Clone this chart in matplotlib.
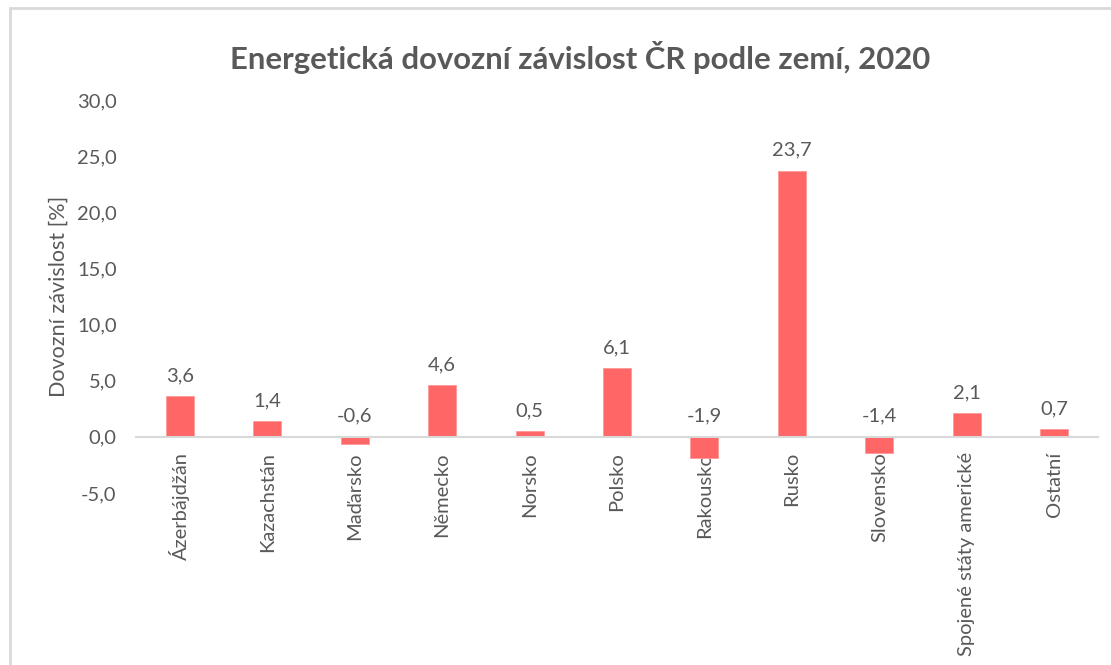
import matplotlib.pyplot as plt
import matplotlib.patches as patches
import numpy as np

# data
zeme = ['Ázerbájdžán', 'Kazachstán', 'Maďarsko', 'Německo', 'Norsko', 'Polsko',
        'Rakousko', 'Rusko', 'Slovensko', 'Spojené státy americké', 'Ostatní']
zavislost = [3.6, 1.4, -0.6, 4.6, 0.5, 6.1, -1.9, 23.7, -1.4, 2.1, 0.7]
y_ticks = [-5, 0, 5, 10, 15, 20, 25, 30]

plt.rcParams['font.family'] = ['Lato', 'DejaVu Sans']
gray = '#595959'
bar_color = '#FF6666'

fig = plt.figure(figsize=(11.11, 6.65), dpi=100)
W, H = 1111, 665

# chart area border (screenshot from a document)
fig.add_artist(patches.Rectangle((10 / W, -0.1), 1.2, 1 - 8 / H + 0.1,
                                 transform=fig.transFigure, fill=False,
                                 edgecolor='#d9d9d9', linewidth=2))

ax = fig.add_axes([136 / W, 1 - 493 / H, (1098 - 136) / W, (493 - 100) / H])

# axis line through zero (before ticks, set_position resets them)
for s in ['top', 'right', 'left']:
    ax.spines[s].set_visible(False)
ax.spines['bottom'].set_position(('data', 0))
ax.spines['bottom'].set_color('#d9d9d9')
ax.spines['bottom'].set_linewidth(1.5)

x = np.arange(len(zeme))
ax.bar(x, zavislost, width=0.32, color=bar_color, edgecolor='#ff9999', linewidth=0.6, zorder=2)

for xi, v in zip(x, zavislost):
    ax.annotate(f'{v:.1f}'.replace('.', ','), (xi, max(v, 0)), xytext=(0, 12),
                textcoords='offset pixels', ha='center', va='bottom',
                fontsize=14.5, color=gray)

ax.set_xlim(-0.5, len(zeme) - 0.5)
ax.set_ylim(-5, 30)
ax.set_yticks(y_ticks)
ax.set_yticklabels([f'{t:.1f}'.replace('.', ',') for t in y_ticks])
ax.set_xticks(x)
ax.set_xticklabels(zeme)

ax.tick_params(axis='y', length=0, pad=14, labelsize=14.5, labelcolor=gray)
ax.tick_params(axis='x', length=0, pad=11, labelsize=14.5, labelcolor=gray,
               labelrotation=90)
for lab in ax.get_xticklabels():
    lab.set_va('top')
    lab.set_ha('center')

ax.set_ylabel('Dovozní závislost [%]', fontsize=15.5, color=gray, labelpad=6)

fig.text(580 / W, 1 - 57 / H, 'Energetická dovozní závislost ČR podle zemí, 2020',
         ha='center', va='center', fontsize=22.4, fontweight='bold', color=gray)

fig.savefig('out.png', dpi=100)
